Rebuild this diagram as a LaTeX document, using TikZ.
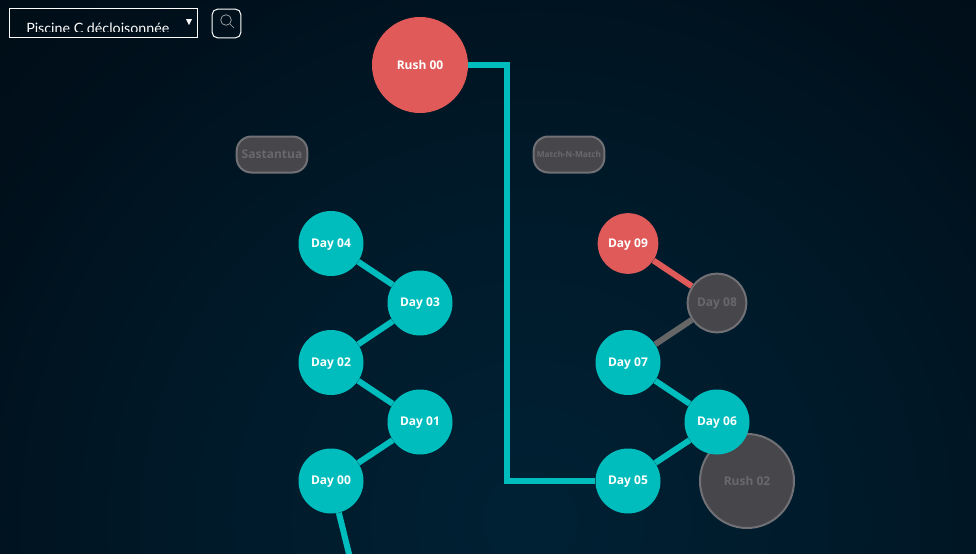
\documentclass[tikz,border=0pt]{standalone}
\usepackage{fontspec}
\setmainfont{Open Sans}
\newfontfamily\latofont{Lato}
\definecolor{tealc}{HTML}{00BDBD}
\definecolor{redc}{HTML}{E05A5A}
\definecolor{greyc}{HTML}{47464B}
\definecolor{greyb}{HTML}{707075}
\definecolor{greyt}{HTML}{68686D}
\definecolor{greye}{HTML}{666666}
\definecolor{bga}{HTML}{002134}
\definecolor{bgb}{HTML}{001A2A}
\definecolor{bgc}{HTML}{000F1A}
\definecolor{bgd}{HTML}{010A12}
\definecolor{bge}{HTML}{01060B}
\definecolor{bgf}{HTML}{000305}
\pgfdeclareradialshading{bgglow}{\pgfpoint{0bp}{0bp}}{
color(0bp)=(bga);
color(10bp)=(bgb);
color(20bp)=(bgc);
color(30bp)=(bgd);
color(40bp)=(bge);
color(50bp)=(bgf)}
\tikzset{
daynode/.style={circle, minimum size=48.75pt, inner sep=0pt, text depth=0.6pt, fill=tealc, text=white, font=\bfseries\fontsize{9}{11}\selectfont},
rednode/.style={daynode, minimum size=45.5pt, fill=redc},
lockday/.style={daynode, minimum size=44pt, fill=greyc, draw=greyb, line width=1.5pt, text=greyt},
rushnode/.style={daynode, minimum size=72pt, fill=redc},
lockrush/.style={rushnode, minimum size=70.5pt, fill=greyc, draw=greyb, line width=1.5pt, text=greyt},
lockbox/.style={rounded corners=11pt, minimum width=53pt, minimum height=27pt, inner sep=0pt, fill=greyc, draw=greyb, line width=1.5pt, text=greyt, font=\bfseries\fontsize{9}{11}\selectfont},
link/.style={line width=4.5pt, draw=tealc},
}
\begin{document}
\begin{tikzpicture}[x=0.75pt, y=-0.75pt]
\useasboundingbox (0,0) rectangle (976,554);
\clip (0,0) rectangle (976,554);
\shade[shading=bgglow] (530,520) circle (800);

% menu
\node[draw=white, line width=0.75pt, minimum width=141pt, minimum height=21.5pt, inner sep=0pt] (menu) at (103.5,23){};
\begin{scope}
\clip (10,9) rectangle (197,31.8);
\node[anchor=base west, inner sep=0pt, text=white, font=\latofont\fontsize{10.7}{13}\selectfont] (menutxt) at (26,33.5){Piscine C décloisonnée};
\end{scope}
\fill[white] (186,19) -- (192,19) -- (189,25) -- cycle;
\node[draw=white, line width=0.75pt, rounded corners=4pt, minimum size=21.5pt, inner sep=0pt] (search) at (226.5,23.5){};
\draw[white!70!black, line width=0.5pt] (226,20) circle (5.3);
\draw[white!70!black, line width=0.5pt] (230,24) -- (234,28);

% rushes and boxes
\node[rushnode] (rush0) at (420,65){Rush 00};
\node[lockrush] (rush2) at (747,481){Rush 02};
\node[lockbox] (sast) at (272,154.5){Sastantua};
\node[lockbox, font=\bfseries\fontsize{6.2}{8}\selectfont] (match) at (569,154.5){Match-N-Match};

% left column
\node[daynode] (day0) at (331,481){Day 00};
\node[daynode] (day1) at (420,422){Day 01};
\node[daynode] (day2) at (331,362.5){Day 02};
\node[daynode] (day3) at (420,303){Day 03};
\node[daynode] (day4) at (331,243.5){Day 04};

% right column
\node[daynode] (day5) at (628,481){Day 05};
\node[daynode] (day6) at (717,422){Day 06};
\node[daynode] (day7) at (628,362.5){Day 07};
\node[lockday] (day8) at (717,303){Day 08};
\node[rednode] (day9) at (628,243.5){Day 09};

\coordinate (bend0) at (507,65);
\coordinate (bend1) at (507,481);
\coordinate (exit0) at (352,566);

\draw[link](rush0) -- (bend0) -- (bend1) -- (day5);
\draw[link](day0) -- (exit0);
\draw[link](day0) -- (day1);
\draw[link](day1) -- (day2);
\draw[link](day2) -- (day3);
\draw[link](day3) -- (day4);
\draw[link](day5) -- (day6);
\draw[link](day6) -- (day7);
\draw[link, draw=greye](day7) -- (day8);
\draw[link, draw=redc](day8) -- (day9);
\end{tikzpicture}
\end{document}
